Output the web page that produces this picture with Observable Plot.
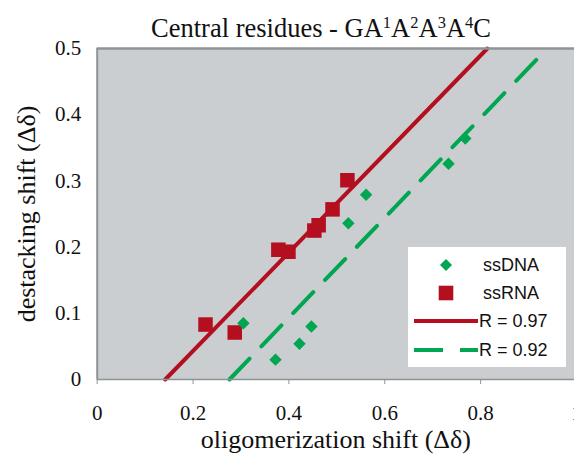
<!DOCTYPE html>
<html><head><meta charset="utf-8">
<script src="https://cdn.jsdelivr.net/npm/d3@7"></script>
<script src="https://cdn.jsdelivr.net/npm/@observablehq/plot@0.6"></script>
<style>
body{margin:0;background:#fff;}
#wrap{position:relative;width:574px;height:454px;overflow:hidden;}
#title{position:absolute;top:15px;left:121px;width:400px;text-align:center;font-family:"Liberation Serif",serif;font-size:26.5px;line-height:26px;color:#111;white-space:nowrap;}
#title sup{font-size:16.5px;line-height:0;position:relative;top:-2px;vertical-align:0.45em;}
#legend{position:absolute;left:408px;top:247px;}
</style></head><body>
<div id="wrap"><div id="chart"></div><div id="title"></div><div id="legend"></div></div>
<script>
// ---- data ----
const titleParts = ["Central residues - GA", "1", "A", "2", "A", "3", "A", "4", "C"];
const xLabel = "oligomerization shift (Δδ)";
const yLabel = "destacking shift (Δδ)";
const xTicks = [0, 0.2, 0.4, 0.6, 0.8, 1];
const yTicks = [0, 0.1, 0.2, 0.3, 0.4, 0.5];

const ssDNA_x = [0.305, 0.372, 0.422, 0.447, 0.524, 0.561, 0.733, 0.768];
const ssDNA_y = [0.085, 0.030, 0.054, 0.080, 0.236, 0.279, 0.326, 0.364];

const ssRNA_x = [0.226, 0.287, 0.378, 0.399, 0.453, 0.462, 0.491, 0.522];
const ssRNA_y = [0.083, 0.071, 0.196, 0.193, 0.225, 0.233, 0.257, 0.301];

const fitRNA_x = [0.142, 0.814];
const fitRNA_y = [0.0, 0.5];
const fitDNA_x = [0.276, 0.919];
const fitDNA_y = [0.0, 0.485];

const legendLabels = ["ssDNA", "ssRNA", "R = 0.97", "R = 0.92"];

// ---- styles ----
const RED = "#b30f1f", GREEN = "#00a651", BG = "#cbced1", EDGE = "#8e9396";

const dna = ssDNA_x.map((x, i) => ({x, y: ssDNA_y[i]}));
const rna = ssRNA_x.map((x, i) => ({x, y: ssRNA_y[i]}));
const lineRNA = fitRNA_x.map((x, i) => ({x, y: fitRNA_y[i]}));
const lineDNA = fitDNA_x.map((x, i) => ({x, y: fitDNA_y[i]}));

const fmt = d => String(d);

const chart = Plot.plot({
  width: 574, height: 454,
  marginLeft: 96.7, marginRight: 0, marginTop: 48, marginBottom: 75,
  style: {fontFamily: "'Liberation Serif', serif", fontSize: "21px", color: "#111", background: "white", overflow: "visible"},
  x: {domain: [0, 1], range: [96.7, 576]},
  y: {domain: [0, 0.5]},
  marks: [
    Plot.frame({fill: BG, stroke: null}),
    Plot.line(lineRNA, {x: "x", y: "y", stroke: RED, strokeWidth: 4}),
    Plot.line(lineDNA, {x: "x", y: "y", stroke: GREEN, strokeWidth: 4, strokeDasharray: "29,17"}),
    Plot.dot(rna, {x: "x", y: "y", symbol: "square", r: 8.2, fill: RED, stroke: null}),
    Plot.dot(dna, {x: "x", y: "y", symbol: "diamond2", r: 5.6, fill: GREEN, stroke: null}),
    Plot.ruleX([0], {stroke: EDGE, strokeWidth: 2}),
    Plot.ruleY([0.5], {stroke: EDGE, strokeWidth: 2.5}),
    Plot.ruleY([0], {stroke: EDGE, strokeWidth: 1.5}),
    Plot.axisX({ticks: xTicks, tickFormat: fmt, tickSize: 5, tickPadding: 21, stroke: EDGE, fill: "#111",
      label: xLabel, labelAnchor: "center", labelOffset: 68, labelArrow: "none", fontSize: 21}),
    Plot.axisY({ticks: yTicks, tickFormat: fmt, tickSize: 0, tickPadding: 16, fill: "#111",
      label: yLabel, labelAnchor: "center", labelOffset: 81, labelArrow: "none", fontSize: 21})
  ]
});
document.getElementById("chart").appendChild(chart);

// axis label font sizes
d3.select(chart).selectAll("g[aria-label='x-axis label'] text, g[aria-label='y-axis label'] text")
  .style("font-size", "26px");

// title with superscripts
const t = d3.select("#title");
titleParts.forEach((p, i) => {
  if (i % 2 === 1) t.append("sup").text(p); else t.append("span").text(p);
});

// legend
const lg = d3.select("#legend").append("svg").attr("width", 158).attr("height", 120);
lg.append("rect").attr("width", 158).attr("height", 120).attr("fill", "white");
const rows = [18, 46, 74, 103];
lg.append("path").attr("d", d3.symbol(d3.symbolDiamond2, 2 * 6.8 * 6.8)()).attr("transform", `translate(38,${rows[0]})`).attr("fill", GREEN);
lg.append("rect").attr("x", 38 - 7.3).attr("y", rows[1] - 7.3).attr("width", 14.6).attr("height", 14.6).attr("fill", RED);
lg.append("line").attr("x1", 6).attr("x2", 70).attr("y1", rows[2]).attr("y2", rows[2]).attr("stroke", RED).attr("stroke-width", 4);
lg.append("line").attr("x1", 6).attr("x2", 70).attr("y1", rows[3]).attr("y2", rows[3]).attr("stroke", GREEN).attr("stroke-width", 4).attr("stroke-dasharray", "29,17");
lg.selectAll("text.l").data(legendLabels).join("text")
  .attr("x", (d, i) => i < 2 ? 75 : 71).attr("y", (d, i) => rows[i]).attr("dy", "0.35em")
  .attr("font-family", "'Liberation Sans', Arial, sans-serif").attr("font-size", 18).attr("fill", "#111")
  .text(d => d);
</script>
</body></html>
